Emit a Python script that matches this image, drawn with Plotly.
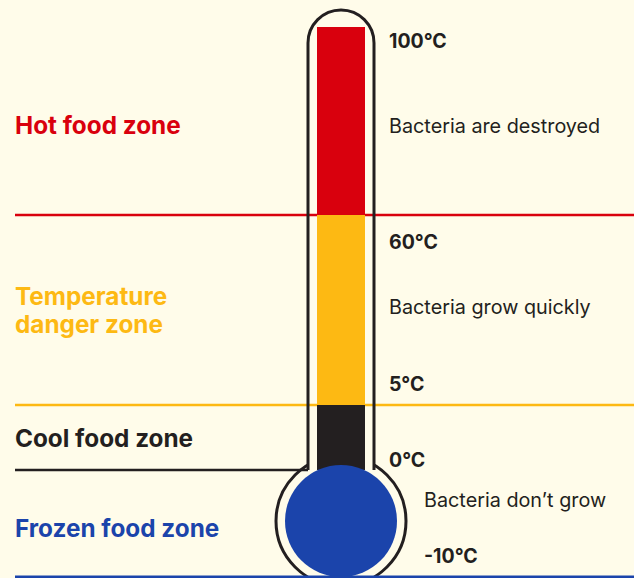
import plotly.graph_objects as go

# ---------------- data ----------------
zones = ["Hot food zone", "Temperature<br>danger zone", "Cool food zone", "Frozen food zone"]
temp_labels = ["100°C", "60°C", "5°C", "0°C", "-10°C"]
descriptions = ["Bacteria are destroyed", "Bacteria grow quickly", "Bacteria don’t grow"]

# ---------------- styles / layout ----------------
W, H = 634, 578
BG = "#FFFCEA"
RED, YEL, DARK, BLUE = "#D9000D", "#FDB913", "#231F20", "#1B44AB"
zone_colors = [RED, YEL, DARK, BLUE]

# schematic vertical layout (pixel-like axis, y reversed)
col_top = 27
zone_bounds = [col_top, 215, 405, 470, 577]   # borders between zones
tube_x0, tube_x1 = 308, 374
fill_x0, fill_x1 = 316, 364
cx = (tube_x0 + tube_x1) / 2
bulb_cy, bulb_r_out, bulb_r_in = 521, 65, 56
tube_top = 10
rad = (tube_x1 - tube_x0) / 2

fig = go.Figure()

# thermometer column fill (hot, danger, cool)
for i in range(3):
    fig.add_trace(go.Bar(
        x=[cx], y=[zone_bounds[i + 1] - zone_bounds[i]], base=[zone_bounds[i]],
        width=[fill_x1 - fill_x0], marker=dict(color=zone_colors[i], line=dict(width=0)),
        hoverinfo="skip", showlegend=False))

shapes = []
# outer bulb
shapes.append(dict(type="circle", layer="below", xref="x", yref="y",
                   x0=cx - bulb_r_out, x1=cx + bulb_r_out,
                   y0=bulb_cy - bulb_r_out, y1=bulb_cy + bulb_r_out,
                   fillcolor=BG, line=dict(color=DARK, width=3)))
# tube path (rounded top)
k = 0.5523 * rad
ytop_c = tube_top + rad
tube_path = (f"M {tube_x0},{zone_bounds[3]} L {tube_x0},{ytop_c} "
             f"C {tube_x0},{ytop_c - k} {cx - k},{tube_top} {cx},{tube_top} "
             f"C {cx + k},{tube_top} {tube_x1},{ytop_c - k} {tube_x1},{ytop_c} "
             f"L {tube_x1},{zone_bounds[3]}")
shapes.append(dict(type="path", layer="below", path=tube_path + " Z",
                   fillcolor=BG, line=dict(width=0)))
# zone divider lines
line_x0 = 15
shapes.append(dict(type="line", layer="below", x0=line_x0, x1=W, y0=zone_bounds[1], y1=zone_bounds[1],
                   line=dict(color=RED, width=2.5)))
shapes.append(dict(type="line", layer="below", x0=line_x0, x1=W, y0=zone_bounds[2], y1=zone_bounds[2],
                   line=dict(color=YEL, width=2.5)))
shapes.append(dict(type="line", layer="below", x0=line_x0, x1=tube_x0, y0=zone_bounds[3], y1=zone_bounds[3],
                   line=dict(color=DARK, width=2.5)))
# inner bulb
shapes.append(dict(type="circle", layer="above",
                   x0=cx - bulb_r_in, x1=cx + bulb_r_in,
                   y0=bulb_cy - bulb_r_in, y1=bulb_cy + bulb_r_in,
                   fillcolor=BLUE, line=dict(width=0)))
# tube outline stroke
shapes.append(dict(type="path", layer="above", path=tube_path,
                   fillcolor="rgba(0,0,0,0)", line=dict(color=DARK, width=3)))
# bottom blue line
shapes.append(dict(type="line", layer="above", x0=line_x0, x1=W, y0=zone_bounds[4], y1=zone_bounds[4],
                   line=dict(color=BLUE, width=3)))

annotations = []
zone_label_y = [125, 310, 438, 528]
line_gap = 28
for z, c, y in zip(zones, zone_colors, zone_label_y):
    parts = z.split("<br>")
    n = len(parts)
    for j, p in enumerate(parts):
        yy = y + (j - (n - 1) / 2) * line_gap
        annotations.append(dict(x=line_x0 - 2.5, y=yy, text=f"<b>{p}</b>", showarrow=False,
                                xanchor="left", yanchor="middle", align="left",
                                font=dict(family="Inter", size=24.3, color=c)))
temp_pos = [(389, 41), (389, 242), (389, 384), (389, 460), (424, 556)]
for t, (x, y) in zip(temp_labels, temp_pos):
    annotations.append(dict(x=x - 2, y=y, text=f"<b>{t}</b>", showarrow=False,
                            xanchor="left", yanchor="middle",
                            font=dict(family="Inter", size=19.5, color=DARK)))
desc_pos = [(389, 126), (389, 307), (424, 500)]
for d, (x, y) in zip(descriptions, desc_pos):
    annotations.append(dict(x=x - 2, y=y, text=d, showarrow=False,
                            xanchor="left", yanchor="middle",
                            font=dict(family="Inter", size=19.8, color=DARK)))

fig.update_layout(
    width=W, height=H, margin=dict(l=0, r=0, t=0, b=0),
    paper_bgcolor=BG, plot_bgcolor=BG, barmode="overlay", bargap=0,
    xaxis=dict(range=[0, W], visible=False, fixedrange=True),
    yaxis=dict(range=[H, 0], visible=False, fixedrange=True),
    shapes=shapes, annotations=annotations, showlegend=False,
)
fig.write_html("out.html", config={"displayModeBar": False},
               post_script="document.body.style.margin='0';document.body.style.background='" + BG + "';")
